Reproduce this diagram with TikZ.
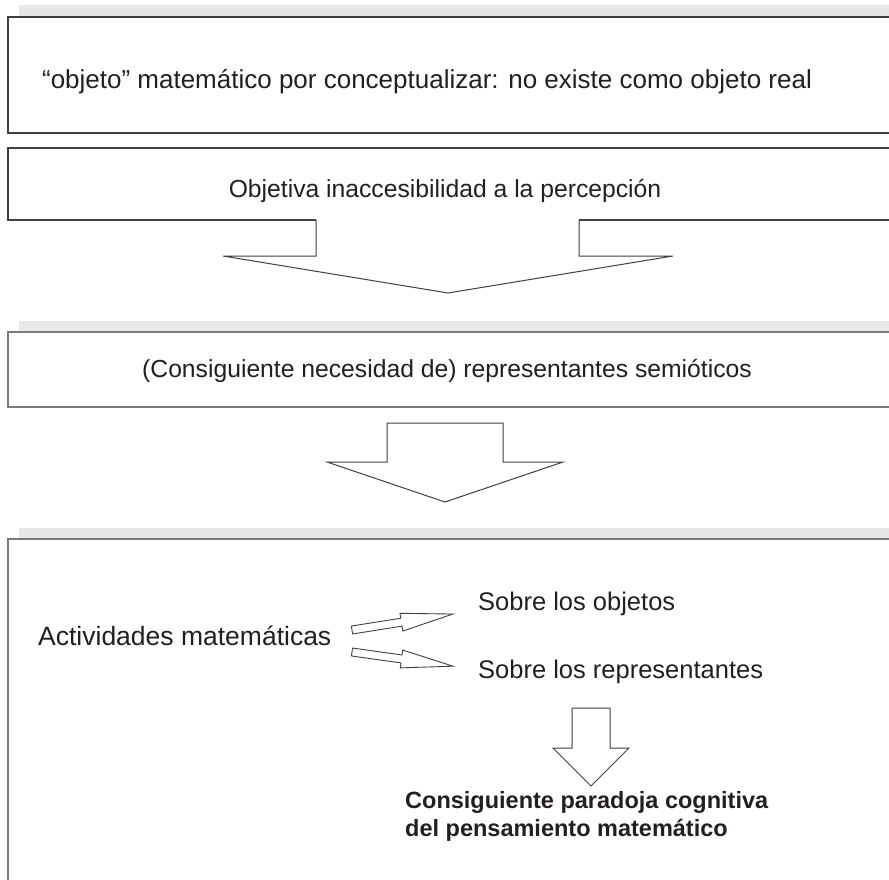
\documentclass[tikz,border=0pt]{standalone}
\usepackage{fontspec}
\setmainfont{Liberation Sans}
\definecolor{bandgray}{HTML}{E6E7E8}
\definecolor{linedark}{HTML}{404040}
\definecolor{linegray}{HTML}{7A7A7A}
\definecolor{ink}{HTML}{231F20}
\begin{document}
\begin{tikzpicture}[x=1pt,y=-1pt,
  band/.style={fill=bandgray, draw=none},
  boxline/.style={draw=linedark, line width=1.3pt},
  boxlinegray/.style={draw=linegray, line width=2pt},
  arrowshape/.style={draw=linedark, line width=1pt, fill=white, line join=miter},
  txt/.style={font=\fontsize{24.7}{29}\selectfont, text=ink, inner sep=0pt, anchor=base},
  ltxt/.style={font=\fontsize{25.5}{29}\selectfont, text=ink, inner sep=0pt, anchor=base west},
  btxt/.style={font=\fontsize{23.5}{28}\selectfont\bfseries, text=ink, inner sep=0pt, anchor=north west, align=left},
  ]
\useasboundingbox (0,0) rectangle (889,880);
\clip (0,0) rectangle (889,880);
\fill[white] (0,0) rectangle (889,880);

% box 1
\fill[band] (19,5) rectangle (895,17);
\draw[boxline] (895,17) -- (8,17) -- (8,133) -- (895,133);
\node[txt, font=\fontsize{26}{30}\selectfont] (t1) at (427,89) {“objeto” matemático por conceptualizar: no existe como objeto real};

% box 2 with its arrow
\draw[boxline] (895,148) -- (8,148) -- (8,220) -- (316,220);
\draw[boxline] (579,220) -- (895,220);
\draw[arrowshape] (316,220) -- (316,256) -- (223,256) -- (448,293) -- (673,256) -- (579,256) -- (579,220);
\node[txt] (t2) at (445,197) {Objetiva inaccesibilidad a la percepción};

% box 3
\fill[band] (19,321) rectangle (895,332);
\draw[boxlinegray] (895,332) -- (8,332) -- (8,407) -- (895,407);
\node[txt] (t3) at (447,377) {(Consiguiente necesidad de) representantes semióticos};

% arrow 2
\draw[arrowshape] (387,423) -- (503,423) -- (503,462) -- (563,462) -- (445,502) -- (327,462) -- (387,462) -- cycle;

% box 4
\fill[band] (19,528) rectangle (895,539);
\draw[boxlinegray] (895,539) -- (8,539) -- (8,890);

\node[ltxt, font=\fontsize{26.5}{30}\selectfont] (act) at (38,645) {Actividades matemáticas};
\node[ltxt] (obj) at (478,610) {Sobre los objetos};
\node[ltxt] (rep) at (478,678) {Sobre los representantes};

% small hollow arrows
\begin{scope}[shift={(352,630)}, rotate=9]
  \draw[arrowshape, line width=0.9pt] (0,-4) -- (50,-4) -- (50,-9) -- (102,0) -- (50,9) -- (50,4) -- (0,4) -- cycle;
\end{scope}
\begin{scope}[shift={(352,652)}, rotate=-8]
  \draw[arrowshape, line width=0.9pt] (0,-4) -- (50,-4) -- (50,-9) -- (102,0) -- (50,9) -- (50,4) -- (0,4) -- cycle;
\end{scope}

% arrow 3
\draw[arrowshape] (572,708) -- (610,708) -- (610,748) -- (629,748) -- (591,786) -- (553,748) -- (572,748) -- cycle;

\node[btxt] (par) at (405,791) {Consiguiente paradoja cognitiva\\del pensamiento matemático};
\end{tikzpicture}
\end{document}
